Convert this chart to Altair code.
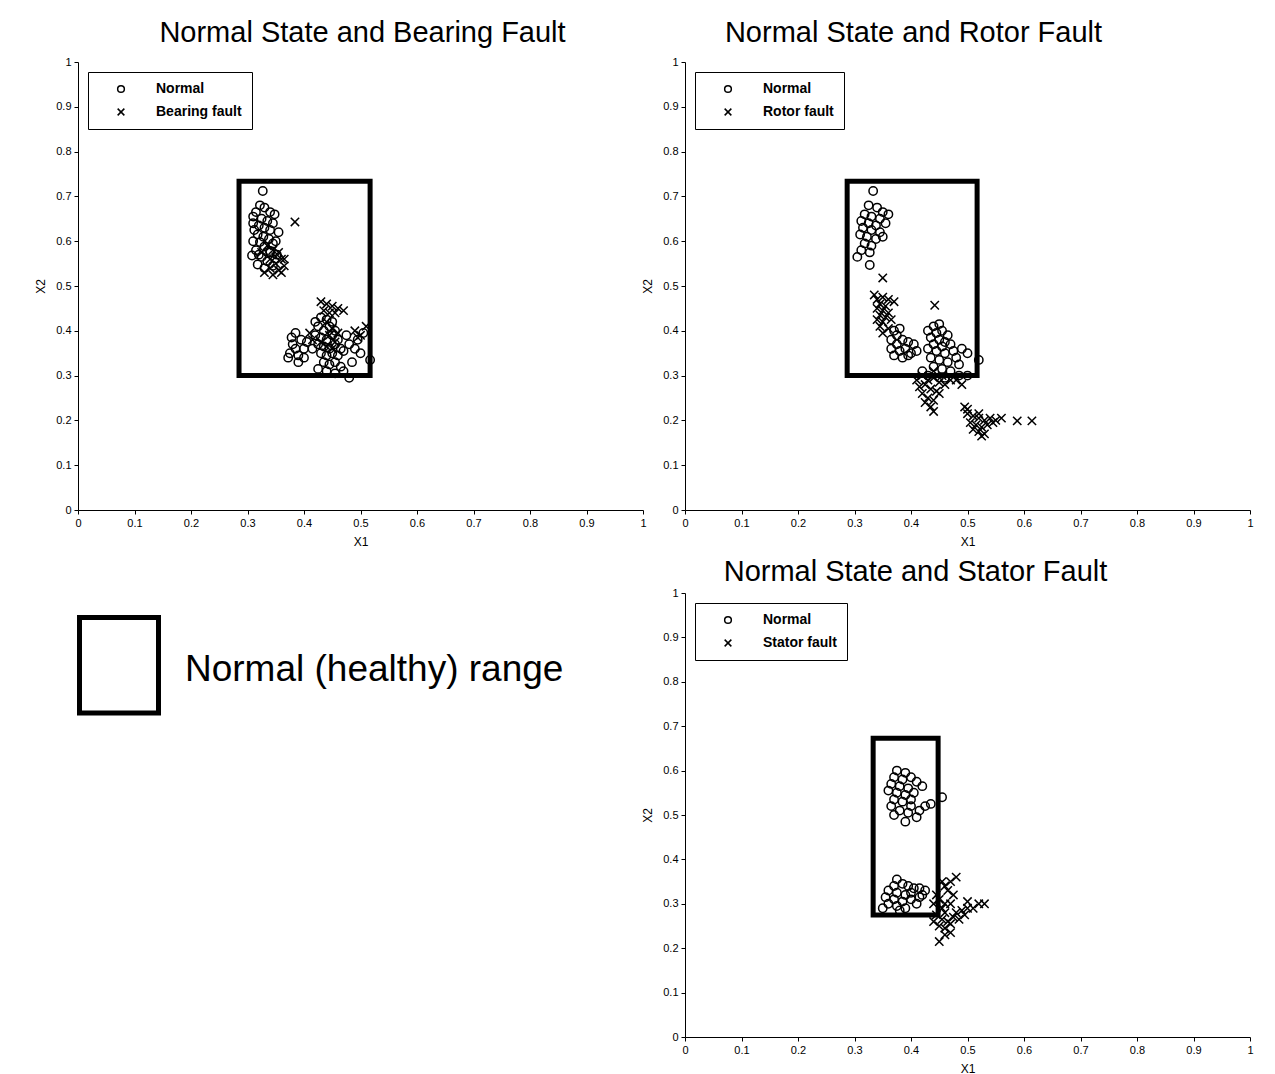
import altair as alt
import pandas as pd

FONT = "Liberation Sans"
TICKS = [0, 0.1, 0.2, 0.3, 0.4, 0.5, 0.6, 0.7, 0.8, 0.9, 1]
XMARK = "M-1,-1L1,1M-1,1L1,-1"

TITLES = ["Normal State and Bearing Fault", "Normal State and Rotor Fault", "Normal State and Stator Fault"]
FAULT_LABELS = ["Bearing fault", "Rotor fault", "Stator fault"]
KEY_TEXT = "Normal (healthy) range"

# healthy-range boxes: x1, x2, y1, y2
BOX1 = [0.285, 0.517, 0.300, 0.734]
BOX2 = [0.287, 0.517, 0.300, 0.734]
BOX3 = [0.333, 0.448, 0.275, 0.673]

# ---- Panel 1: Normal vs Bearing fault ----
N1_X = [0.327, 0.322, 0.33, 0.315, 0.34, 0.348, 0.31, 0.325, 0.335, 0.345, 0.32, 0.33, 0.312, 0.34, 0.355,
        0.318, 0.328, 0.338, 0.31, 0.322, 0.345, 0.33, 0.315, 0.34, 0.352, 0.308, 0.325, 0.335, 0.318, 0.345,
        0.33, 0.34, 0.31, 0.35, 0.32,
        0.375, 0.385, 0.38, 0.39, 0.395, 0.372, 0.385, 0.4, 0.39, 0.378, 0.405, 0.4,
        0.42, 0.43, 0.44, 0.425, 0.435, 0.445, 0.455, 0.42, 0.43, 0.44, 0.45, 0.46, 0.425, 0.435, 0.445,
        0.455, 0.465, 0.43, 0.44, 0.45, 0.46, 0.47, 0.435, 0.445, 0.455, 0.465, 0.425, 0.44, 0.415, 0.45,
        0.475, 0.48, 0.49, 0.5, 0.485, 0.47, 0.48, 0.455, 0.517, 0.495, 0.505]
N1_Y = [0.712, 0.68, 0.675, 0.665, 0.665, 0.66, 0.655, 0.65, 0.645, 0.64, 0.635, 0.63, 0.625, 0.625, 0.62,
        0.615, 0.61, 0.605, 0.6, 0.598, 0.595, 0.588, 0.58, 0.578, 0.57, 0.568, 0.565, 0.555, 0.548, 0.545,
        0.54, 0.575, 0.64, 0.6, 0.57,
        0.35, 0.36, 0.37, 0.345, 0.38, 0.34, 0.395, 0.36, 0.33, 0.385, 0.375, 0.34,
        0.42, 0.43, 0.425, 0.41, 0.4, 0.41, 0.4, 0.39, 0.385, 0.38, 0.39, 0.38, 0.37, 0.365, 0.36,
        0.37, 0.36, 0.35, 0.345, 0.35, 0.345, 0.355, 0.33, 0.325, 0.33, 0.32, 0.315, 0.31, 0.36, 0.42,
        0.39, 0.37, 0.36, 0.35, 0.33, 0.31, 0.295, 0.305, 0.335, 0.38, 0.395]
F1_X = [0.384, 0.335, 0.345, 0.355, 0.36, 0.35, 0.34, 0.355, 0.365, 0.345, 0.33, 0.36, 0.35, 0.34, 0.365, 0.325,
        0.43, 0.44, 0.45, 0.46, 0.435, 0.445, 0.455, 0.47, 0.44, 0.45, 0.445, 0.455, 0.44, 0.45, 0.43, 0.46,
        0.49, 0.5, 0.51, 0.495, 0.41, 0.415]
F1_Y = [0.643, 0.59, 0.58, 0.575, 0.56, 0.55, 0.54, 0.535, 0.545, 0.525, 0.53, 0.53, 0.565, 0.56, 0.56, 0.575,
        0.465, 0.46, 0.455, 0.45, 0.445, 0.44, 0.44, 0.445, 0.42, 0.405, 0.39, 0.375, 0.365, 0.36, 0.375, 0.395,
        0.4, 0.39, 0.41, 0.385, 0.395, 0.38]

# ---- Panel 2: Normal vs Rotor fault ----
N2_X = [0.333, 0.325, 0.34, 0.35, 0.36, 0.318, 0.33, 0.345, 0.312, 0.325, 0.338, 0.355, 0.315, 0.33, 0.345,
        0.31, 0.322, 0.338, 0.35, 0.318, 0.33, 0.312, 0.327, 0.305, 0.327,
        0.37, 0.375, 0.38, 0.385, 0.375, 0.365, 0.38, 0.39, 0.395, 0.37, 0.385, 0.4, 0.405, 0.395, 0.41, 0.365,
        0.44, 0.45, 0.43, 0.445, 0.455, 0.465, 0.435, 0.45, 0.46, 0.44, 0.455, 0.47, 0.43, 0.445, 0.46, 0.475,
        0.435, 0.45, 0.465, 0.44, 0.455, 0.47, 0.48, 0.485, 0.49, 0.5, 0.5, 0.52, 0.42, 0.43, 0.46, 0.485]
N2_Y = [0.712, 0.68, 0.675, 0.665, 0.66, 0.66, 0.655, 0.65, 0.645, 0.64, 0.635, 0.64, 0.63, 0.625, 0.62,
        0.615, 0.61, 0.605, 0.61, 0.595, 0.59, 0.58, 0.575, 0.565, 0.547,
        0.4, 0.39, 0.405, 0.38, 0.37, 0.36, 0.355, 0.36, 0.345, 0.345, 0.34, 0.35, 0.37, 0.375, 0.355, 0.38,
        0.41, 0.415, 0.4, 0.395, 0.4, 0.39, 0.385, 0.38, 0.375, 0.37, 0.365, 0.37, 0.36, 0.355, 0.35, 0.355,
        0.34, 0.335, 0.33, 0.32, 0.315, 0.31, 0.34, 0.325, 0.36, 0.35, 0.3, 0.335, 0.31, 0.3, 0.295, 0.3]
F2_X = [0.35, 0.442,
        0.335, 0.34, 0.35, 0.36, 0.37, 0.345, 0.355, 0.34, 0.35, 0.36, 0.345, 0.355, 0.34, 0.35, 0.365, 0.345,
        0.36, 0.35,
        0.42, 0.43, 0.44, 0.45, 0.425, 0.435, 0.445, 0.42, 0.43, 0.44, 0.45, 0.425, 0.435, 0.415, 0.46, 0.455,
        0.47, 0.48, 0.49, 0.44, 0.44, 0.41,
        0.495, 0.5, 0.51, 0.52, 0.53, 0.54, 0.55, 0.505, 0.515, 0.525, 0.535, 0.52, 0.53, 0.51, 0.545, 0.56,
        0.5, 0.52, 0.525, 0.588, 0.614]
F2_Y = [0.518, 0.457,
        0.48, 0.47, 0.475, 0.47, 0.465, 0.46, 0.455, 0.45, 0.445, 0.44, 0.435, 0.43, 0.425, 0.42, 0.425, 0.41,
        0.405, 0.395,
        0.3, 0.29, 0.295, 0.285, 0.28, 0.27, 0.265, 0.26, 0.25, 0.245, 0.26, 0.24, 0.23, 0.275, 0.28, 0.3,
        0.29, 0.29, 0.28, 0.22, 0.31, 0.29,
        0.23, 0.215, 0.21, 0.205, 0.2, 0.205, 0.2, 0.195, 0.19, 0.185, 0.19, 0.175, 0.17, 0.18, 0.195, 0.205,
        0.225, 0.215, 0.165, 0.199, 0.199]

# ---- Panel 3: Normal vs Stator fault ----
N3_X = [0.375, 0.39, 0.37, 0.385, 0.4, 0.41, 0.365, 0.38, 0.395, 0.42, 0.36, 0.375, 0.39, 0.405, 0.37,
        0.385, 0.4, 0.365, 0.38, 0.395, 0.41, 0.39, 0.425, 0.435, 0.415, 0.455, 0.37, 0.4,
        0.375, 0.385, 0.37, 0.395, 0.405, 0.415, 0.425, 0.36, 0.375, 0.39, 0.4, 0.355, 0.37, 0.385, 0.4,
        0.415, 0.36, 0.375, 0.39, 0.35, 0.38, 0.41, 0.42]
N3_Y = [0.6, 0.595, 0.585, 0.58, 0.585, 0.575, 0.57, 0.565, 0.56, 0.565, 0.555, 0.55, 0.545, 0.55, 0.535,
        0.53, 0.52, 0.52, 0.51, 0.505, 0.495, 0.485, 0.52, 0.525, 0.51, 0.54, 0.5, 0.535,
        0.355, 0.345, 0.34, 0.34, 0.335, 0.335, 0.33, 0.33, 0.325, 0.32, 0.325, 0.315, 0.31, 0.305, 0.31,
        0.315, 0.3, 0.295, 0.29, 0.29, 0.285, 0.3, 0.32]
F3_X = [0.44, 0.45, 0.455, 0.46, 0.445, 0.455, 0.465, 0.45, 0.46, 0.47, 0.475, 0.48, 0.49, 0.5, 0.51, 0.52,
        0.53, 0.46, 0.47, 0.48, 0.475, 0.465, 0.455, 0.45, 0.44, 0.47, 0.485, 0.495, 0.5, 0.445, 0.46, 0.47,
        0.46]
F3_Y = [0.3, 0.31, 0.29, 0.28, 0.275, 0.265, 0.26, 0.25, 0.245, 0.255, 0.27, 0.28, 0.285, 0.29, 0.29, 0.3,
        0.3, 0.34, 0.35, 0.36, 0.32, 0.33, 0.35, 0.215, 0.26, 0.235, 0.265, 0.275, 0.305, 0.32, 0.3, 0.3,
        0.23]


def axis(title, tpad):
    return alt.Axis(values=TICKS, format="~g", title=title, grid=False,
                    domainColor="black", tickColor="black", labelColor="black", titleColor="black",
                    labelFont=FONT, titleFont=FONT, labelFontSize=11, titleFontSize=12,
                    titleFontWeight="normal", tickSize=4, labelPadding=3, titlePadding=tpad,
                    labelFlush=False)


def panel(nx, ny, fx, fy, fault_label, box, title, height, title_dx, title_offset):
    df = pd.DataFrame({
        "x": nx + fx,
        "y": ny + fy,
        "state": ["Normal"] * len(nx) + [fault_label] * len(fx),
    })
    bdf = pd.DataFrame({"x1": [box[0]], "x2": [box[1]], "y1": [box[2]], "y2": [box[3]]})
    xs = alt.Scale(domain=[0, 1], nice=False, zero=False)
    ys = alt.Scale(domain=[0, 1], nice=False, zero=False)
    rect = alt.Chart(bdf).mark_rect(filled=False, stroke="black", strokeWidth=5).encode(
        x=alt.X("x1:Q", scale=xs, axis=axis("X1", 8)),
        x2="x2:Q",
        y=alt.Y("y1:Q", scale=ys, axis=axis("X2", 8)),
        y2="y2:Q",
    )
    pts = alt.Chart(df).mark_point(filled=False, stroke="black", strokeWidth=1.5, size=70, opacity=1).encode(
        x=alt.X("x:Q", scale=xs, axis=axis("X1", 8)),
        y=alt.Y("y:Q", scale=ys, axis=axis("X2", 8)),
        shape=alt.Shape("state:N",
                        scale=alt.Scale(domain=["Normal", fault_label], range=["circle", XMARK]),
                        legend=alt.Legend(title=None, orient="top-left", offset=10,
                                          strokeColor="black", fillColor="white", padding=10,
                                          labelFont=FONT, labelFontSize=14, labelFontWeight="bold",
                                          labelColor="black", symbolSize=45, symbolStrokeColor="black",
                                          symbolFillColor="transparent", symbolStrokeWidth=1.5,
                                          symbolOffset=16, labelOffset=28, rowPadding=9)),
    )
    return alt.layer(rect, pts).properties(
        width=565, height=height,
        title=alt.TitleParams(title, font=FONT, fontSize=29, fontWeight="normal", color="black",
                              offset=title_offset, dx=title_dx),
    ).resolve_scale(shape="independent")


p1 = panel(N1_X, N1_Y, F1_X, F1_Y, FAULT_LABELS[0], BOX1, TITLES[0], 448, 2, 8)
p2 = panel(N2_X, N2_Y, F2_X, F2_Y, FAULT_LABELS[1], BOX2, TITLES[1], 448, -54, 8)
p3 = panel(N3_X, N3_Y, F3_X, F3_Y, FAULT_LABELS[2], BOX3, TITLES[2], 444, -52, 0)

kdf = pd.DataFrame({"label": [KEY_TEXT]})
key_rect = alt.Chart(kdf).mark_rect(filled=False, stroke="black", strokeWidth=5).encode(
    x=alt.value(1.5), x2=alt.value(80.5), y=alt.value(24.5), y2=alt.value(120))
key_text = alt.Chart(kdf).mark_text(align="left", baseline="middle", font=FONT, fontSize=37,
                                    color="black").encode(
    x=alt.value(107), y=alt.value(77), text="label:N")
key = alt.layer(key_rect, key_text).properties(width=565, height=444)

chart = alt.concat(p1, p2, key, p3, columns=2, spacing={"row": 11, "column": -6}).resolve_scale(
    shape="independent").resolve_legend(shape="independent").properties(
    padding={"left": 34, "top": 19, "right": 5, "bottom": 0},
    background="white",
).configure_view(stroke=None, strokeWidth=0)

chart.save("out.html", embed_options={"renderer": "svg", "actions": False})
